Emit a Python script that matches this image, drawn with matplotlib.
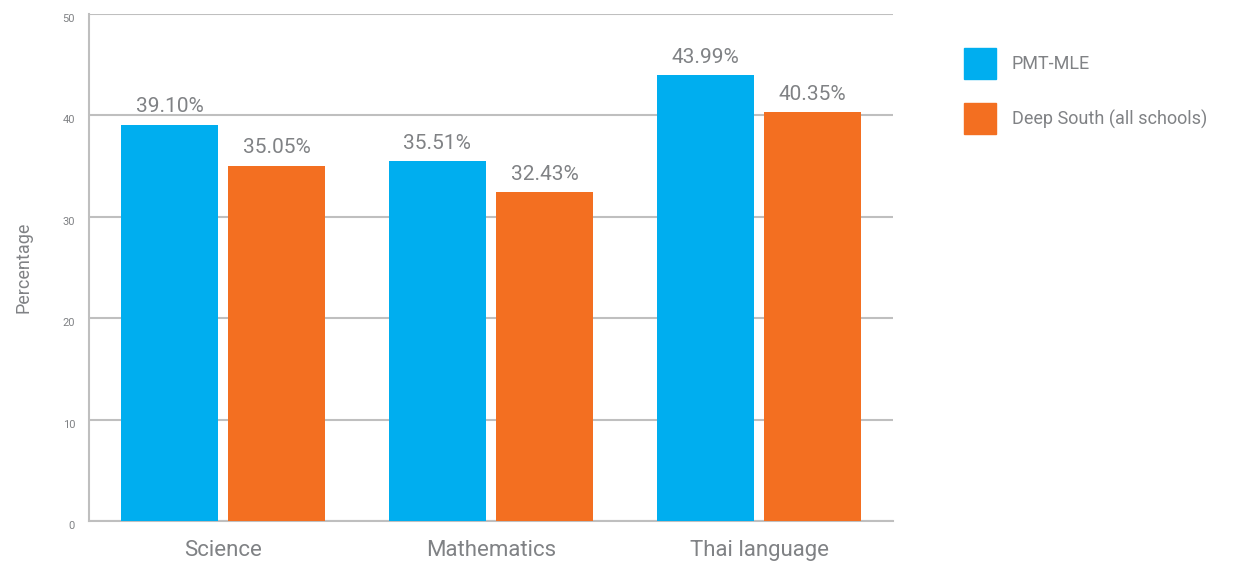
import numpy as np
import matplotlib.pyplot as plt
from matplotlib.patches import Patch

plt.rcParams['font.family'] = ['Liberation Sans Narrow', 'Roboto', 'DejaVu Sans']

categories = ["Science", "Mathematics", "Thai language"]
series_names = ["PMT-MLE", "Deep South (all schools)"]
pmt_mle = [39.10, 35.51, 43.99]
deep_south = [35.05, 32.43, 40.35]
yticks = [0, 10, 20, 30, 40, 50]

BLUE = "#00AEEF"
ORANGE = "#F36F21"
TEXT = "#808285"
GRID = "#BFBFBF"

fig = plt.figure(figsize=(12.39, 5.63), dpi=100)
ax = fig.add_axes([89 / 1239, 1 - 521 / 563, (893 - 89) / 1239, (521 - 14) / 563])

x = np.arange(len(categories))
width = 0.363
gap = 0.037
offset = (width + gap) / 2

b1 = ax.bar(x - offset, pmt_mle, width, color=BLUE, zorder=3)
b2 = ax.bar(x + offset, deep_south, width, color=ORANGE, zorder=3)

for bars, vals in ((b1, pmt_mle), (b2, deep_south)):
    for rect, v in zip(bars, vals):
        ax.annotate(f"{v:.2f}%", (rect.get_x() + rect.get_width() / 2, v),
                    xytext=(0, 6), textcoords="offset points",
                    ha="center", va="bottom", fontsize=15, color=TEXT)

ax.set_xlim(-0.5, 2.5)
ax.set_ylim(0, 50)
ax.set_yticks(yticks)
ax.set_yticklabels([str(t) for t in yticks], fontsize=8, color=TEXT, va="top")
ax.tick_params(axis="y", length=0, pad=10)
ax.set_xticks(x)
ax.set_xticklabels(categories, fontsize=16, color=TEXT)
ax.tick_params(axis="x", length=0, pad=14)

ax.grid(axis="y", color=GRID, linewidth=1.5, zorder=0)
for side in ("top", "right"):
    ax.spines[side].set_visible(False)
ax.spines["left"].set_color(GRID)
ax.spines["left"].set_linewidth(1.5)
ax.spines["bottom"].set_color(GRID)
ax.spines["bottom"].set_linewidth(1.5)

ax.set_ylabel("Percentage", fontsize=13, color=TEXT, labelpad=22)

handles = [Patch(color=BLUE), Patch(color=ORANGE)]
fig.legend(handles, series_names, loc="upper left",
           bbox_to_anchor=(946 / 1239, 1 - 30 / 563), frameon=False,
           fontsize=13, labelcolor=TEXT, handlelength=1.75, handleheight=2.25,
           handletextpad=0.9, labelspacing=1.35, borderpad=0.5)

fig.savefig("out.png", dpi=100)
